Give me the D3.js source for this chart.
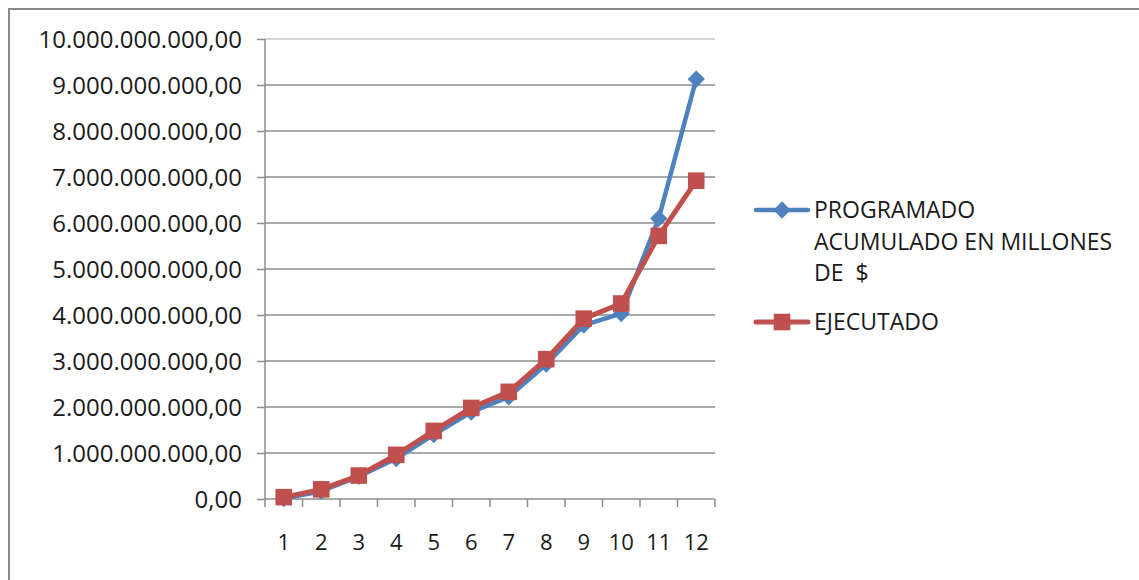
<!DOCTYPE html>
<html lang="es">
<head>
  <meta charset="UTF-8">
  <title>Programado vs Ejecutado</title>
  <script src="https://d3js.org/d3.v7.min.js"></script>
  <style>
    body { margin: 0; background: #fff; }
    .grid line { stroke: #8c8c8c; stroke-width: 1.5; }
  </style>
</head>
<body>
  <svg width="1139" height="580"></svg>
  <script>
    const months = ["1", "2", "3", "4", "5", "6", "7", "8", "9", "10", "11", "12"];
    const programado = [0.01e9, 0.17e9, 0.49e9, 0.88e9, 1.40e9, 1.89e9, 2.22e9, 2.93e9, 3.78e9, 4.03e9, 6.10e9, 9.13e9];
    const ejecutado = [0.04e9, 0.21e9, 0.51e9, 0.96e9, 1.48e9, 1.98e9, 2.33e9, 3.04e9, 3.92e9, 4.25e9, 5.72e9, 6.92e9];
    const yTicks = [0, 1e9, 2e9, 3e9, 4e9, 5e9, 6e9, 7e9, 8e9, 9e9, 10e9];

    const FONT = "'Open Sans', sans-serif";

    const svg = d3.select("svg"),
          margin = {top: 39, left: 265},
          width = 450,
          height = 460;

    // chart frame
    svg.append("rect")
      .attr("x", 9).attr("y", 9)
      .attr("width", 1140).attr("height", 600)
      .attr("fill", "none")
      .attr("stroke", "#8a8a8a")
      .attr("stroke-width", 2);

    const g = svg.append("g").attr("transform", `translate(${margin.left},${margin.top})`);

    const x = d3.scaleBand().domain(months).range([0, width]);
    const y = d3.scaleLinear().domain([0, 10e9]).range([height, 0]);

    const fmt = v => {
      const s = d3.format(",.2f")(v);
      return s.replace(/,/g, "#").replace(".", ",").replace(/#/g, ".");
    };

    // horizontal gridlines
    g.append("g").attr("class", "grid")
      .selectAll("line")
      .data(yTicks.slice(1))
      .join("line")
      .attr("x1", 0).attr("x2", width)
      .attr("y1", d => y(d)).attr("y2", d => y(d))
      .style("stroke", d => d === 10e9 ? "#c8c8c8" : null);

    // y axis
    const yAxis = g.append("g")
      .call(d3.axisLeft(y).tickValues(yTicks).tickFormat(fmt).tickSize(8).tickPadding(15));
    yAxis.select(".domain").attr("stroke", "#8c8c8c").attr("stroke-width", 1.5).attr("d", `M0,0V${height}`);
    yAxis.selectAll(".tick line").attr("stroke", "#8c8c8c").attr("stroke-width", 1.5);
    yAxis.selectAll(".tick text")
      .attr("dy", "0.36em")
      .style("font-family", FONT).style("font-size", "24px").style("fill", "#1a1a1a");

    // x axis
    const xAxis = g.append("g")
      .attr("transform", `translate(0,${height})`)
      .call(d3.axisBottom(x).tickSize(0).tickPadding(43));
    xAxis.select(".domain").attr("stroke", "#8c8c8c").attr("stroke-width", 1.5).attr("d", `M0,0H${width}`);
    xAxis.selectAll(".tick text")
      .attr("dy", "0.36em")
      .style("font-family", FONT).style("font-size", "22px").style("fill", "#1a1a1a");
    xAxis.selectAll(".sep")
      .data(d3.range(months.length + 1))
      .join("line")
      .attr("x1", i => i * x.step()).attr("x2", i => i * x.step())
      .attr("y1", 0).attr("y2", 8)
      .attr("stroke", "#8c8c8c").attr("stroke-width", 1.5);

    const cx = i => x(months[i]) + x.bandwidth() / 2;
    const line = d3.line().x((d, i) => cx(i)).y(d => y(d));

    const series = [
      {name: "PROGRAMADO", values: programado, color: "#4f81bd", shape: d3.symbolDiamond2, size: 190, lw: 4.5},
      {name: "EJECUTADO", values: ejecutado, color: "#c0504d", shape: d3.symbolSquare2, size: 350, lw: 5}
    ];

    series.forEach(s => {
      g.append("path")
        .datum(s.values)
        .attr("fill", "none")
        .attr("stroke", s.color)
        .attr("stroke-width", s.lw)
        .attr("stroke-linejoin", "round")
        .attr("d", line);
      g.selectAll(null)
        .data(s.values)
        .join("path")
        .attr("transform", (d, i) => `translate(${cx(i)},${y(d)})`)
        .attr("d", d3.symbol().type(s.shape).size(s.size))
        .attr("fill", s.color);
    });

    // legend
    const legend = svg.append("g");
    const legendItems = [
      {lines: ["PROGRAMADO", "ACUMULADO EN MILLONES", "DE  $"], y: 210, s: series[0]},
      {lines: ["EJECUTADO"], y: 322, s: series[1]}
    ];
    legendItems.forEach(it => {
      legend.append("line")
        .attr("x1", 756).attr("x2", 808)
        .attr("y1", it.y).attr("y2", it.y)
        .attr("stroke", it.s.color).attr("stroke-width", it.s.lw)
        .attr("stroke-linecap", "round");
      legend.append("path")
        .attr("transform", `translate(782,${it.y})`)
        .attr("d", d3.symbol().type(it.s.shape).size(it.s.size))
        .attr("fill", it.s.color);
      const t = legend.append("text").attr("x", 814).attr("y", it.y)
        .style("font-family", FONT).style("font-size", "23px").style("fill", "#1a1a1a");
      t.selectAll("tspan")
        .data(it.lines)
        .join("tspan")
        .attr("x", 814)
        .attr("dy", (d, i) => i === 0 ? "0.36em" : "31.5")
        .style("white-space", "pre")
        .text(d => d);
    });
  </script>
</body>
</html>
